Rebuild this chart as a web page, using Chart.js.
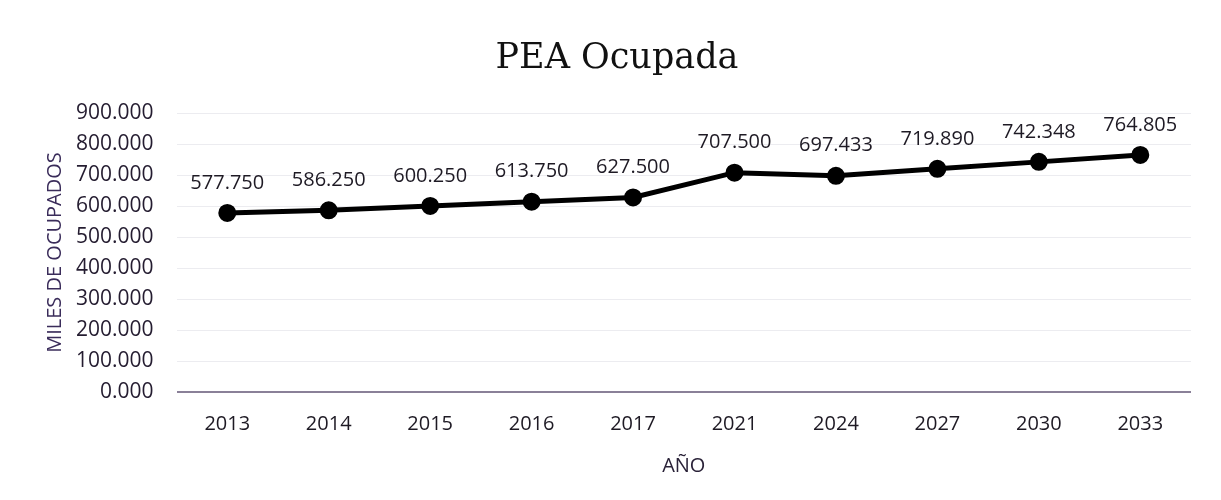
<!DOCTYPE html>
<html>
<head>
<meta charset="utf-8">
<script src="https://cdn.jsdelivr.net/npm/chart.js@4"></script>
<style>
  html, body { margin: 0; padding: 0; background: #fff; }
  #wrap { width: 1221px; height: 500px; }
</style>
</head>
<body>
<div id="wrap"><canvas id="chart" width="1221" height="500"></canvas></div>
<script>
const years = ["2013", "2014", "2015", "2016", "2017", "2021", "2024", "2027", "2030", "2033"];
const ocupados = [577.750, 586.250, 600.250, 613.750, 627.500, 707.500, 697.433, 719.890, 742.348, 764.805];
const yTicks = [0, 100, 200, 300, 400, 500, 600, 700, 800, 900];

const fmt = v => Number(v).toFixed(3);

// etiquetas de valor encima de cada punto
const valueLabels = {
    id: 'valueLabels',
    afterDatasetsDraw(chart) {
        const ctx = chart.ctx;
        const meta = chart.getDatasetMeta(0);
        ctx.save();
        ctx.font = '20px "Open Sans"';
        ctx.fillStyle = '#1e1a24';
        ctx.textAlign = 'center';
        ctx.textBaseline = 'middle';
        meta.data.forEach((pt, i) => {
            ctx.fillText(fmt(ocupados[i]), pt.x, pt.y - 30);
        });
        ctx.restore();
    }
};

const data = {
    labels: years,
    datasets: [{
        label: 'PEA Ocupada',
        data: ocupados,
        borderColor: '#000',
        backgroundColor: '#000',
        borderWidth: 5,
        pointRadius: 6.5,
        pointHoverRadius: 6.5,
        tension: 0
    }]
};

const config = {
    type: 'line',
    data: data,
    options: {
        responsive: false,
        animation: false,
        layout: { padding: { left: 43, right: 30, top: 10, bottom: 18 } },
        plugins: {
            legend: { display: false },
            tooltip: { enabled: false },
            title: {
                display: true,
                text: 'PEA Ocupada',
                color: '#111',
                font: { family: '"DejaVu Serif"', size: 35, weight: 'normal' },
                padding: { top: 28, bottom: 33 }
            }
        },
        scales: {
            x: {
                offset: true,
                grid: { display: false },
                border: { display: false },
                ticks: {
                    color: '#1e1a24',
                    font: { family: '"Open Sans"', size: 20 },
                    padding: 12
                },
                title: {
                    display: true,
                    text: 'AÑO',
                    color: '#2a2238',
                    font: { family: '"Open Sans"', size: 20 },
                    padding: { top: 6 }
                }
            },
            y: {
                min: 0,
                max: 900,
                afterBuildTicks: axis => { axis.ticks = yTicks.map(v => ({ value: v })); },
                grid: {
                    color: ctx => ctx.tick.value === 0 ? '#8a8098' : '#ececf0',
                    lineWidth: ctx => ctx.tick.value === 0 ? 2 : 1,
                    drawTicks: false
                },
                border: { display: false },
                ticks: {
                    color: '#241c30',
                    font: { family: '"Open Sans"', size: 21 },
                    padding: 23,
                    callback: v => fmt(v)
                },
                title: {
                    display: true,
                    text: 'MILES DE OCUPADOS',
                    color: '#3a2c5a',
                    font: { family: '"Open Sans"', size: 20 },
                    padding: { top: 0, bottom: -14 }
                }
            }
        }
    },
    plugins: [valueLabels]
};

var chart = new Chart(document.getElementById('chart'), config);
</script>
</body>
</html>
